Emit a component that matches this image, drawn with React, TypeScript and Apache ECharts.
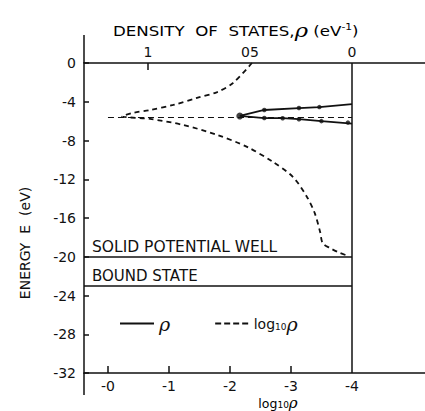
import React, { useEffect, useRef } from "react";
import * as echarts from "echarts";

// Density of states rho (eV^-1) vs energy E (eV), solid curve (top axis)
const rhoUpper = [0, 0.16, 0.26, 0.43, 0.55];
const energyRhoUpper = [-4.25, -4.55, -4.65, -4.85, -5.45];
const rhoLower = [0.55, 0.43, 0.34, 0.26, 0.15, 0];
const energyRhoLower = [-5.5, -5.68, -5.7, -5.8, -6.0, -6.25];

// measured dots on the rho curve
const rhoDots = [0.43, 0.26, 0.16, 0.43, 0.34, 0.26, 0.15, 0.02];
const energyDots = [-4.85, -4.65, -4.55, -5.68, -5.7, -5.8, -6.0, -6.15];
const rhoTip = [0.55];
const energyTip = [-5.47];

// log10 rho vs energy, dashed curve (bottom axis)
const logUpper = [-2.36, -2.05, -1.79, -1.46, -1.07, -0.69, -0.41, -0.23];
const energyLogUpper = [0, -2.06, -3.0, -3.6, -4.33, -4.85, -5.15, -5.5];
const logLower = [-0.69, -1.23, -1.79, -2.28, -2.7, -3.03, -3.26, -3.39, -3.48, -3.52, -3.64, -3.8, -3.93];
const energyLogLower = [-5.77, -6.39, -7.42, -8.66, -10.2, -11.75, -13.8, -15.5, -17.5, -18.6, -19.1, -19.6, -19.9];

// reference levels
const stateLevel = -5.6;
const levelLogRange = [0, -4];
const wellEnergy = -20;
const boundEnergy = -23;
const rightBoundaryLog = -4;

// axes
const logTicks = [0, -1, -2, -3];
const logLabels = [0, -1, -2, -3, -4];
const rhoTicks = [1];
const rhoLabels = [0, 0.5, 1];
const energyMin = -32;
const energyMax = 0;
const energyStep = 4;

const FONT = "DejaVu Sans";
const BLACK = "#111";

export default function App() {
  const ref = useRef<HTMLDivElement>(null);
  useEffect(() => {
    if (!ref.current) return;
    const chart = echarts.init(ref.current, null, { renderer: "svg" });
    const rhoLine = [
      ...rhoUpper.map((r, i) => [r, energyRhoUpper[i]]),
      ...rhoLower.map((r, i) => [r, energyRhoLower[i]]),
    ];
    const logLine = [
      ...logUpper.map((l, i) => [l, energyLogUpper[i]]),
      ...logLower.map((l, i) => [l, energyLogLower[i]]),
    ];
    const dots = [
      ...rhoDots.map((r, i) => ({ value: [r, energyDots[i]], symbolSize: 4.5 })),
      ...rhoTip.map((r, i) => ({ value: [r, energyTip[i]], symbolSize: 7 })),
    ];
    const rich = {
      a: { fontFamily: FONT, fontSize: 14, color: BLACK },
      s: { fontFamily: FONT, fontSize: 9, color: BLACK, padding: [7, 0, 0, 0] },
      r: { fontFamily: "DejaVu Serif", fontStyle: "italic", fontSize: 19, color: BLACK },
      sup: { fontFamily: FONT, fontSize: 9, color: BLACK, padding: [0, 0, 8, 0] },
    };
    const richSmall = {
      a: { fontFamily: FONT, fontSize: 12.5, color: BLACK, lineHeight: 12 },
      s: { fontFamily: FONT, fontSize: 9, color: BLACK, padding: [4, 0, 0, 0], lineHeight: 8 },
      r: { fontFamily: "DejaVu Serif", fontStyle: "italic", fontSize: 15, color: BLACK, lineHeight: 12 },
    };
    const left = 84;
    const top = 63;
    const bottomY = 373;
    const solidIcon = "path://M0,0H34V2H0Z";
    const dashIcon = "path://M0,0H6V2H0Z M9,0H15V2H9Z M18,0H24V2H18Z M27,0H33V2H27Z";
    chart.setOption({
      animation: false,
      backgroundColor: "#fff",
      grid: { left, right: 0, top, bottom: 411 - bottomY },
      legend: {
        data: [
          { name: "ρ", icon: solidIcon },
          { name: "log10ρ", icon: dashIcon },
        ],
        left: 115,
        top: 309,
        itemWidth: 34,
        itemHeight: 2,
        itemGap: 45,
        selectedMode: false,
        formatter: (n: string) => (n === "ρ" ? "{r|ρ}" : "{a|log}{s|10}{r|ρ}"),
        textStyle: { rich },
      },
      xAxis: [
        {
          type: "value",
          position: "bottom",
          inverse: true,
          min: -5.197,
          max: 0.393,
          axisLine: { onZero: false, lineStyle: { color: BLACK, width: 1.5 } },
          axisTick: { inside: true, length: 7, customValues: logTicks, lineStyle: { color: BLACK, width: 1.5 } },
          axisLabel: {
            customValues: logLabels,
            formatter: (v: number) => (v === 0 ? "-0" : String(v)),
            fontFamily: FONT,
            fontSize: 14,
            lineHeight: 13,
            color: BLACK,
            margin: 6,
          },
          splitLine: { show: false },
        },
        {
          type: "value",
          position: "top",
          inverse: true,
          min: -0.358,
          max: 1.314,
          axisLine: { onZero: false, lineStyle: { color: BLACK, width: 1.5 } },
          axisTick: { inside: true, length: 7, customValues: rhoTicks, lineStyle: { color: BLACK, width: 1.5 } },
          axisLabel: {
            customValues: rhoLabels,
            formatter: (v: number) => (v === 0.5 ? "05" : String(v)),
            fontFamily: FONT,
            fontSize: 14,
            color: BLACK,
            margin: 4,
          },
          splitLine: { show: false },
        },
      ],
      yAxis: {
        type: "value",
        min: energyMin,
        max: energyMax,
        interval: energyStep,
        axisLine: { onZero: false, lineStyle: { color: BLACK, width: 1.5 } },
        axisTick: { inside: true, length: 5, lineStyle: { color: BLACK, width: 1.5 } },
        axisLabel: { fontFamily: FONT, fontSize: 14, color: BLACK, margin: 8 },
        splitLine: { show: false },
      },
      graphic: [
        { type: "line", shape: { x1: left, y1: 35, x2: left, y2: top }, style: { stroke: BLACK, lineWidth: 1.5 } },
        { type: "line", shape: { x1: left, y1: bottomY, x2: left, y2: 395 }, style: { stroke: BLACK, lineWidth: 1.5 } },
        {
          type: "text",
          x: 113,
          y: 31,
          scaleX: 1.19,
          style: {
            text: "{a|DENSITY  OF  STATES,}{r|ρ}{a| (eV}{sup|-1}{a|)}",
            rich,
            verticalAlign: "middle",
          },
        },
        {
          type: "text",
          x: 278,
          y: 403,
          style: { text: "{a|log}{s|10}{r|ρ}", rich: richSmall, align: "center", verticalAlign: "middle" },
        },
        {
          type: "text",
          x: 25,
          y: 243,
          rotation: Math.PI / 2,
          style: {
            text: "ENERGY  E  (eV)",
            fontFamily: FONT,
            fontSize: 14,
            fill: BLACK,
            align: "center",
            verticalAlign: "middle",
          },
        },
      ],
      series: [
        {
          name: "ρ",
          type: "line",
          xAxisIndex: 1,
          yAxisIndex: 0,
          symbol: "none",
          data: rhoLine,
          lineStyle: { color: BLACK, width: 1.8 },
          itemStyle: { color: BLACK },
        },
        {
          name: "log10ρ",
          type: "line",
          xAxisIndex: 0,
          yAxisIndex: 0,
          symbol: "none",
          smooth: 0.3,
          data: logLine,
          lineStyle: { color: BLACK, width: 1.8, type: [5, 4] },
          itemStyle: { color: BLACK },
        },
        {
          type: "scatter",
          xAxisIndex: 1,
          yAxisIndex: 0,
          data: dots,
          itemStyle: { color: BLACK },
          silent: true,
        },
        {
          type: "line",
          xAxisIndex: 0,
          yAxisIndex: 0,
          data: [],
          silent: true,
          markLine: {
            silent: true,
            symbol: "none",
            animation: false,
            data: [
              [
                { coord: [levelLogRange[0], stateLevel], lineStyle: { type: [6, 4], width: 1.2, color: BLACK }, label: { show: false } },
                { coord: [levelLogRange[1], stateLevel] },
              ],
              [
                {
                  coord: [0.393, wellEnergy],
                  lineStyle: { type: "solid", width: 1.5, color: BLACK },
                  label: {
                    show: true,
                    formatter: "SOLID POTENTIAL WELL",
                    position: "insideStartTop",
                    distance: [8, 2],
                    fontFamily: FONT,
                    fontSize: 15.5,
                    color: BLACK,
                  },
                },
                { coord: [rightBoundaryLog, wellEnergy] },
              ],
              [
                {
                  coord: [0.393, boundEnergy],
                  lineStyle: { type: "solid", width: 1.5, color: BLACK },
                  label: {
                    show: true,
                    formatter: "BOUND STATE",
                    position: "insideStartTop",
                    distance: [8, 2],
                    fontFamily: FONT,
                    fontSize: 15,
                    color: BLACK,
                  },
                },
                { coord: [rightBoundaryLog, boundEnergy] },
              ],
              [
                { coord: [rightBoundaryLog, energyMax], lineStyle: { type: "solid", width: 1.5, color: BLACK }, label: { show: false } },
                { coord: [rightBoundaryLog, energyMin] },
              ],
            ],
          },
        },
      ],
    });
    return () => chart.dispose();
  }, []);
  return <div ref={ref} style={{ position: "absolute", left: 0, top: 0, width: 425, height: 411 }} />;
}
